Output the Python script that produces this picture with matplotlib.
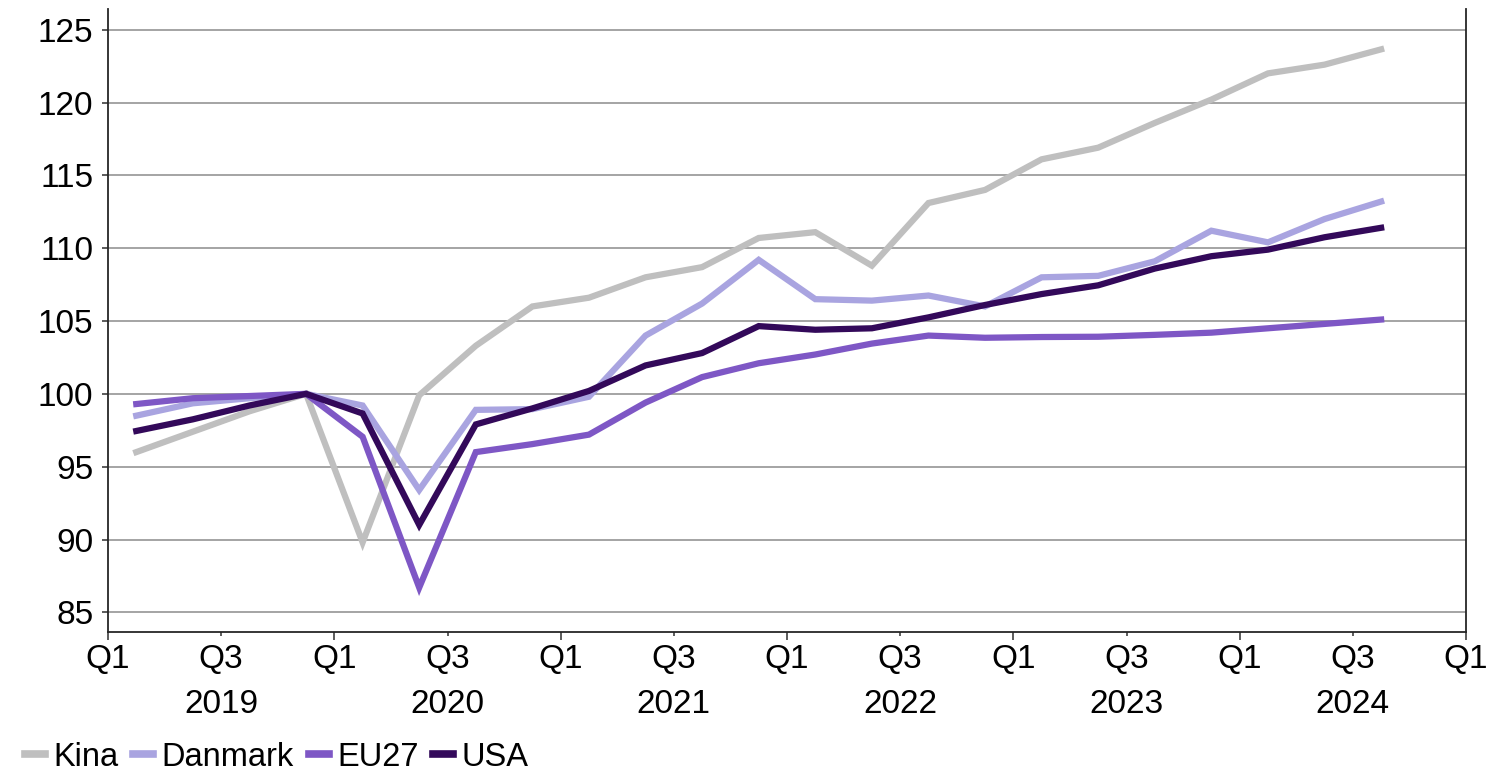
import matplotlib
matplotlib.use("Agg")
import matplotlib.pyplot as plt
import numpy as np

plt.rcParams["font.family"] = ["Liberation Sans", "DejaVu Sans"]

# quarterly index, 2019Q4 = 100, 2019Q1 .. 2024Q3
quarters = [f"{y}Q{q}" for y in range(2019, 2025) for q in range(1, 5)][:23]
kina = [96.0, 97.4, 98.8, 100.0, 89.8, 99.9, 103.3, 106.0, 106.6, 108.0, 108.7, 110.7,
        111.1, 108.8, 113.1, 114.0, 116.1, 116.9, 118.6, 120.2, 122.0, 122.6, 123.65]
danmark = [98.5, 99.35, 99.7, 100.0, 99.2, 93.4, 98.9, 98.95, 99.8, 104.0, 106.2, 109.2,
           106.5, 106.4, 106.75, 106.0, 108.0, 108.1, 109.1, 111.2, 110.4, 112.0, 113.2]
eu27 = [99.3, 99.7, 99.85, 100.0, 97.05, 86.7, 96.0, 96.55, 97.2, 99.4, 101.15, 102.1,
        102.7, 103.45, 104.0, 103.85, 103.9, 103.92, 104.05, 104.2, 104.5, 104.8, 105.1]
usa = [97.45, 98.25, 99.2, 100.0, 98.65, 91.0, 97.9, 99.0, 100.2, 101.95, 102.8, 104.65,
       104.4, 104.5, 105.25, 106.1, 106.85, 107.45, 108.6, 109.45, 109.9, 110.75, 111.4]

series = [("Kina", kina, "#BFBFBF"),
          ("Danmark", danmark, "#A9A4E0"),
          ("EU27", eu27, "#7E57C5"),
          ("USA", usa, "#33095A")]

years = [2019, 2020, 2021, 2022, 2023, 2024]

fig = plt.figure(figsize=(14.91, 7.75), dpi=100)
ax = fig.add_axes([108 / 1491, 1 - 632 / 775, (1466 - 108) / 1491, (632 - 9) / 775])

x = np.arange(len(quarters)) + 0.5
for name, vals, col in series:
    ax.plot(x, vals, color=col, linewidth=4.5, label=name, solid_joinstyle="miter")

ax.set_xlim(0, 24)
ax.set_ylim(83.65, 126.42)
ax.set_yticks(np.arange(85, 126, 5))
ax.yaxis.grid(True, color="#8C8C8C", linewidth=1.1)
ax.set_axisbelow(True)

major = np.arange(0, 25, 4)
minor = np.arange(2, 24, 4)
ax.set_xticks(major)
ax.set_xticklabels(["Q1"] * len(major))
ax.set_xticks(minor, minor=True)
ax.set_xticklabels([f"Q3\n{y}" for y in years], minor=True, linespacing=1.6,
                   va="top")

ax.tick_params(axis="x", which="major", length=6, width=1.2, pad=2.5, labelsize=24,
               color="#404040")
ax.tick_params(axis="x", which="minor", length=3, width=1.2, pad=5.5, labelsize=24,
               color="#404040")
ax.tick_params(axis="y", length=4.5, width=1.2, pad=6, labelsize=24, color="#404040")

ax.spines["top"].set_visible(False)
for s in ("left", "right", "bottom"):
    ax.spines[s].set_color("#262626")
    ax.spines[s].set_linewidth(1.3)

leg = fig.legend(loc="lower left", bbox_to_anchor=(0.008, -0.014), ncol=4, frameon=False,
                 fontsize=23.5, handlelength=0.62, handletextpad=0.25, columnspacing=0.45,
                 borderaxespad=0.0)
for h in leg.get_lines():
    h.set_linewidth(5.5)

fig.savefig("out.png", dpi=100)
